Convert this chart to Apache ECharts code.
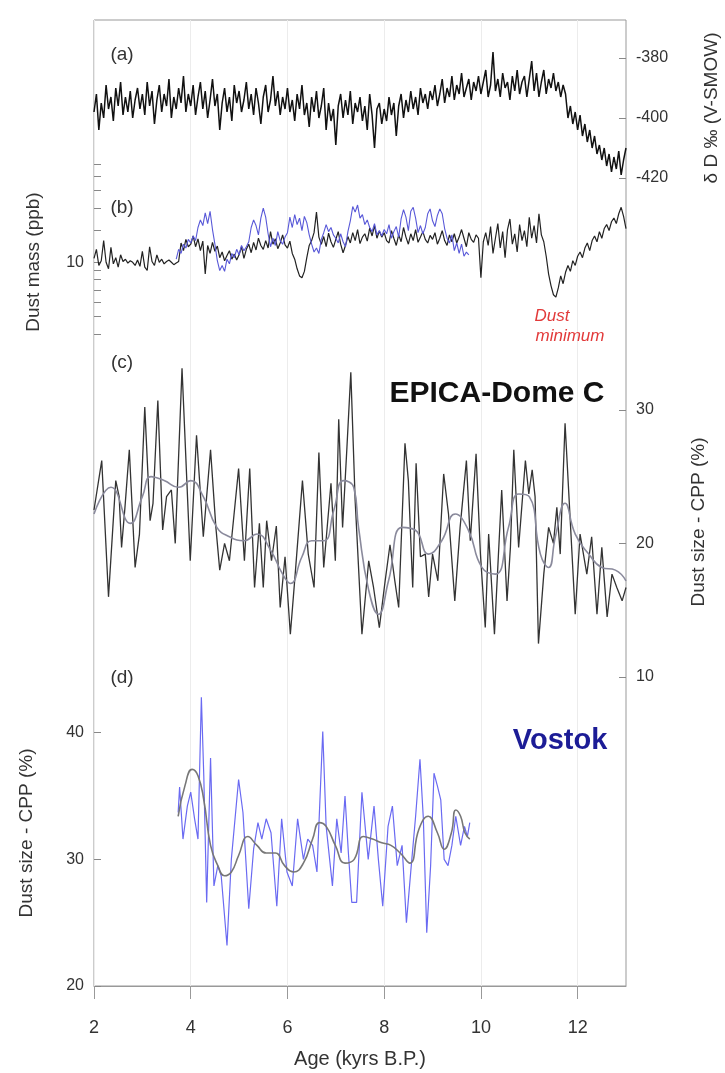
<!DOCTYPE html>
<html>
<head>
<meta charset="utf-8">
<script src="https://cdn.jsdelivr.net/npm/echarts@6/dist/echarts.min.js"></script>
<style>
  html, body { margin: 0; background: #fff; }
  #chart { width: 725px; height: 1073px; }
</style>
</head>
<body>
<div id="chart"></div>
<script>
// (a) deuterium, sampled every 0.05 kyr from 2.00 kyr
const DD_START = 2.0, DD_STEP = 0.05;
const deuterium = [
  -398,-392,-404,-395,-400,-389,-397,-393,-401,-390,-396,-388,-399,-393,-398,-391,-400,-394,-390,-397,
  -392,-399,-388,-396,-391,-402,-394,-389,-398,-392,-396,-387,-400,-393,-397,-390,-395,-386,-398,-392,
  -396,-389,-399,-393,-388,-397,-391,-400,-394,-387,-396,-392,-404,-395,-390,-398,-393,-401,-389,-395,
  -391,-398,-394,-388,-397,-392,-399,-390,-395,-402,-393,-389,-398,-394,-386,-396,-391,-399,-393,-397,
  -390,-398,-394,-401,-392,-397,-389,-399,-395,-403,-393,-398,-391,-400,-396,-390,-404,-395,-401,-397,
  -409,-396,-392,-400,-394,-399,-391,-402,-395,-398,-393,-401,-396,-404,-392,-399,-410,-397,-395,-402,
  -397,-401,-393,-399,-395,-406,-396,-392,-400,-394,-398,-391,-397,-393,-399,-390,-395,-392,-397,-391,
  -394,-389,-396,-392,-387,-395,-390,-393,-386,-394,-389,-392,-385,-393,-390,-387,-394,-388,-391,-386,
  -392,-388,-384,-393,-389,-378,-391,-387,-393,-385,-390,-388,-394,-386,-391,-384,-392,-388,-386,-393,
  -387,-381,-391,-385,-393,-388,-384,-392,-387,-390,-385,-391,-388,-393,-389,-392,-400,-396,-402,-398,
  -404,-399,-406,-402,-408,-404,-410,-406,-412,-409,-414,-410,-416,-412,-418,-413,-417,-411,-419,-414,
  -410
];

// (b) dust mass (ppb), EDC every 0.05 kyr from 2.00, Vostok from 3.70
const MASS_EDC_START = 2.0, MASS_STEP = 0.05;
const massEdc = [
  10.5,11.8,9.6,10.2,13.2,10.0,9.2,12.1,9.8,10.6,9.4,11.0,10.1,10.4,9.9,10.2,10.0,9.6,10.3,9.5,
  11.5,9.4,9.0,12.2,10.1,9.6,11.0,10.0,10.4,9.8,10.1,10.3,10.0,9.7,9.9,10.1,12.8,11.6,13.4,12.2,
  12.6,14.0,12.2,13.5,11.6,13.1,8.6,12.4,11.2,12.9,11.5,12.3,10.6,11.4,10.2,10.9,11.6,10.4,11.1,10.3,
  11.0,12.2,10.5,11.8,12.6,11.3,12.9,11.7,13.6,12.4,11.8,13.2,12.0,14.8,12.6,13.5,11.9,12.8,14.2,12.5,
  12.0,13.1,11.2,10.4,9.2,8.4,8.2,8.9,10.6,12.4,13.2,14.6,19.0,13.8,12.6,13.9,12.2,14.5,13.0,12.1,
  13.4,14.8,12.6,11.3,12.4,13.9,12.8,14.6,13.2,15.2,12.7,13.8,14.4,13.1,15.5,14.0,16.0,13.6,14.9,13.8,
  14.6,13.2,12.8,15.0,13.6,12.4,14.2,13.0,15.6,13.8,12.6,14.4,13.2,15.2,12.9,13.8,14.8,13.4,12.8,14.1,
  13.4,14.6,12.6,13.6,15.0,13.2,12.4,14.2,13.0,14.4,12.8,13.8,15.2,13.6,12.2,14.6,13.4,12.9,14.2,13.6,
  8.2,13.0,14.6,12.4,15.8,11.2,13.6,16.4,12.0,14.8,10.6,15.2,17.4,12.6,14.4,11.4,16.2,13.2,15.0,12.2,
  17.8,13.6,16.0,12.8,18.6,14.2,13.0,10.8,8.6,7.4,6.6,6.4,7.2,8.4,7.6,8.8,9.6,8.9,10.2,9.6,
  10.8,11.4,10.6,12.0,12.8,11.6,13.2,14.0,13.0,14.8,13.6,15.4,16.2,15.0,16.8,17.6,16.4,18.6,20.2,18.0,
  15.4
];
const MASS_VOSTOK_START = 3.7;
const massVostok = [
  10.4,11.8,11.2,12.6,12.0,13.4,
  12.8,14.0,13.2,15.6,17.2,16.0,18.8,16.4,19.2,15.2,12.6,10.2,9.0,9.6,8.9,10.4,9.8,11.2,10.6,11.8,
  11.0,12.4,11.6,12.2,13.0,15.6,17.2,16.0,14.2,17.6,20.0,17.8,14.4,12.2,13.6,12.4,14.8,13.2,12.6,13.8,
  14.6,17.8,15.6,18.4,16.2,17.6,15.0,18.0,16.6,14.2,12.6,11.4,12.0,11.2,13.4,14.6,16.2,14.8,15.6,14.2,
  13.6,12.8,14.4,13.0,12.2,14.8,17.0,20.4,19.0,20.8,17.6,18.4,16.2,17.2,15.6,14.8,16.4,14.2,15.0,14.0,
  15.2,14.4,16.2,13.6,14.8,15.8,13.8,17.4,19.6,17.8,15.0,19.2,20.2,17.6,14.6,16.0,14.4,15.6,18.6,19.8,
  17.0,15.8,18.2,19.8,18.6,15.4,13.6,12.8,14.2,11.6,12.8,11.2,12.6,10.8,11.4,11.0
];

// (c) EDC dust size CPP (%) [age kyr, value]
const cppEdc = [
  [2.00,22.5],[2.16,26.2],[2.30,16.0],[2.45,24.7],[2.52,23.5],[2.57,19.7],[2.64,22.7],[2.73,27.0],
  [2.85,18.2],[2.94,20.7],[3.05,30.2],[3.16,21.7],[3.22,23.0],[3.32,30.7],[3.42,21.0],[3.50,23.5],
  [3.60,24.0],[3.68,20.0],[3.82,33.1],[3.99,18.7],[4.12,28.1],[4.26,20.5],[4.41,27.0],[4.52,21.2],
  [4.60,18.0],[4.70,20.0],[4.80,18.7],[4.99,25.6],[5.11,18.7],[5.22,25.6],[5.32,16.7],[5.42,21.5],
  [5.50,16.7],[5.57,21.7],[5.67,18.7],[5.77,21.3],[5.85,15.2],[5.95,19.0],[6.06,13.2],[6.16,17.7],
  [6.31,24.7],[6.43,19.2],[6.55,16.7],[6.65,26.8],[6.75,18.2],[6.90,24.5],[6.99,18.7],[7.06,29.3],
  [7.14,21.2],[7.23,27.2],[7.31,32.8],[7.40,23.2],[7.54,13.2],[7.68,18.7],[7.78,16.7],[7.90,13.7],
  [8.02,17.2],[8.12,19.9],[8.22,17.2],[8.30,15.2],[8.43,27.5],[8.50,24.7],[8.59,16.7],[8.66,26.0],
  [8.75,19.0],[8.85,19.2],[8.92,16.0],[9.00,19.2],[9.11,17.2],[9.23,25.2],[9.33,22.2],[9.46,15.7],
  [9.57,21.2],[9.70,26.2],[9.78,20.2],[9.90,26.7],[9.99,19.2],[10.09,13.7],[10.16,20.7],[10.28,13.2],
  [10.36,19.0],[10.43,24.0],[10.54,15.7],[10.61,19.7],[10.68,27.0],[10.78,19.7],[10.92,26.2],[10.99,23.7],
  [11.06,25.5],[11.12,23.5],[11.19,12.5],[11.30,17.7],[11.40,21.2],[11.50,20.0],[11.57,22.7],[11.64,19.2],
  [11.74,29.0],[11.84,22.2],[11.95,14.7],[12.05,20.7],[12.19,17.7],[12.29,20.5],[12.40,14.7],[12.50,19.7],
  [12.61,14.5],[12.71,17.7],[12.81,16.7],[12.92,15.7],[13.00,16.7]
];
const cppEdcSmooth = [
  [2.00,22.2],[2.35,24.2],[2.75,21.5],[3.00,23.5],[3.18,25.0],[3.45,24.7],[3.75,24.2],[4.00,24.7],
  [4.26,23.5],[4.54,21.2],[4.80,20.5],[5.10,20.2],[5.37,20.7],[5.65,19.5],[5.90,17.7],[6.06,17.0],
  [6.30,19.0],[6.50,20.2],[6.75,20.2],[6.96,22.5],[7.16,24.7],[7.37,24.2],[7.47,21.2],[7.68,16.5],
  [7.88,14.7],[8.09,17.2],[8.37,21.2],[8.64,21.0],[8.92,19.2],[9.19,20.2],[9.47,22.2],[9.74,21.0],
  [10.02,18.2],[10.30,17.7],[10.57,21.2],[10.78,23.7],[11.00,23.5],[11.23,19.2],[11.40,18.2],[11.54,20.5],
  [11.74,23.0],[11.95,20.7],[12.23,19.2],[12.50,18.2],[12.78,18.0],[13.00,17.2]
];

// (d) Vostok dust size CPP (%) [age kyr, value]
const cppVostok = [
  [3.74,33.7],[3.77,35.7],[3.84,31.6],[3.93,34.2],[4.00,35.3],[4.08,33.2],[4.15,31.6],[4.22,42.8],
  [4.27,36.6],[4.33,26.6],[4.41,38.0],[4.48,27.9],[4.56,29.5],[4.63,28.7],[4.75,23.2],[4.84,30.0],
  [4.99,36.3],[5.08,33.7],[5.20,26.1],[5.30,30.8],[5.39,32.9],[5.47,31.6],[5.56,33.2],[5.66,32.1],
  [5.78,26.3],[5.88,33.2],[5.99,29.0],[6.10,27.9],[6.21,33.2],[6.33,30.0],[6.42,31.6],[6.52,31.1],
  [6.61,29.0],[6.73,40.1],[6.80,32.6],[6.93,27.9],[7.02,33.2],[7.11,30.5],[7.19,35.0],[7.26,30.5],
  [7.33,26.6],[7.43,26.6],[7.54,35.3],[7.67,30.0],[7.79,34.2],[7.88,30.0],[7.97,26.3],[8.08,32.6],
  [8.17,34.2],[8.27,29.5],[8.37,31.1],[8.46,25.0],[8.56,29.5],[8.65,33.4],[8.74,37.9],[8.81,33.2],
  [8.88,24.2],[8.96,29.5],[9.03,36.8],[9.10,35.8],[9.17,34.7],[9.24,30.0],[9.32,29.5],[9.40,31.1],
  [9.48,33.4],[9.58,31.1],[9.66,32.6],[9.72,31.8],[9.77,32.9]
];
const cppVostokSmooth = [
  [3.74,33.4],[3.88,35.8],[4.03,37.1],[4.15,36.6],[4.27,34.7],[4.41,31.1],[4.56,29.5],[4.70,28.7],
  [4.84,29.0],[4.99,30.3],[5.18,31.8],[5.37,31.1],[5.56,30.5],[5.75,30.5],[5.94,29.5],[6.13,29.0],
  [6.33,29.7],[6.52,31.6],[6.66,32.9],[6.80,32.6],[6.99,31.1],[7.19,29.7],[7.38,30.0],[7.57,31.8],
  [7.76,31.6],[7.95,31.3],[8.14,31.1],[8.33,30.5],[8.53,29.7],[8.72,32.4],[8.91,33.4],[9.10,32.1],
  [9.24,30.8],[9.39,32.1],[9.48,33.9],[9.58,33.4],[9.67,32.1],[9.77,31.6]
];

const AGE_TICKS = [2, 4, 6, 8, 10, 12];
const DD_TICKS = [-420, -400, -380];
const MASS_LABELS = [10];
const MASS_MINOR = [4, 5, 6, 7, 8, 9, 10, 15, 20, 25, 30, 35];
const CPP_EDC_TICKS = [10, 20, 30];
const CPP_VOSTOK_TICKS = [20, 30, 40];

function onGrid(start, step, vals) {
  return vals.map((v, i) => [+(start + i * step).toFixed(2), v]);
}

const FONT = '"Liberation Sans", Arial, sans-serif';
const chart = echarts.init(document.getElementById('chart'));

// all panels share the same left/right edges; heights follow the reference layout
const L = 94, R = 99;
const grids = [
  { top: 20, height: 966, show: true, borderColor: '#999', borderWidth: 1 },
  { top: 28, height: 150 },
  { top: 160, height: 180 },
  { top: 343, height: 334 },
  { top: 682, height: 304 },
].map(g => Object.assign({ left: L, right: R, outerBoundsMode: 'none', containLabel: false }, g));

const hiddenX = i => ({ gridIndex: i, type: 'value', min: 2, max: 13, show: false });
const tickLabel = { color: '#333', fontSize: 16, fontFamily: FONT };

function yAx(i, pos, opts, ticks, labels) {
  return Object.assign({
    gridIndex: i, position: pos,
    axisLine: { show: false },
    splitLine: { show: false },
    axisTick: { show: true, inside: true, length: 7, customValues: ticks, lineStyle: { color: '#888' } },
    axisLabel: Object.assign({ margin: 10, customValues: labels || ticks }, tickLabel),
  }, opts);
}

function line(i, data, color, width, smooth) {
  return {
    type: 'line', xAxisIndex: i, yAxisIndex: i, data,
    showSymbol: false, symbol: 'none', smooth: !!smooth, clip: false,
    lineStyle: { color, width }, animation: false,
  };
}

function label(text, x, y, opt) {
  return {
    type: 'text', x, y, rotation: (opt && opt.rot) || 0, z: 10,
    style: Object.assign({
      text, fill: '#333', fontSize: 19, fontFamily: FONT,
      align: 'center', verticalAlign: 'middle',
    }, (opt && opt.style) || {}),
  };
}

chart.setOption({
  backgroundColor: '#fff',
  animation: false,
  grid: grids,
  xAxis: [
    {
      gridIndex: 0, type: 'value', min: 2, max: 13, interval: 2,
      axisLine: { show: true, lineStyle: { color: '#999' } },
      axisTick: { show: true, length: 13, customValues: AGE_TICKS, lineStyle: { color: '#999' } },
      axisLabel: Object.assign({}, tickLabel, { margin: 33, fontSize: 18, customValues: AGE_TICKS }),
      splitLine: { show: true, lineStyle: { color: '#ececec' } },
      name: 'Age (kyrs B.P.)', nameLocation: 'middle', nameGap: 63,
      nameTextStyle: { color: '#333', fontSize: 20, fontFamily: FONT },
    },
    hiddenX(1), hiddenX(2), hiddenX(3), hiddenX(4),
  ],
  yAxis: [
    { gridIndex: 0, type: 'value', min: 0, max: 1, show: false },
    yAx(1, 'right', { type: 'value', min: -420, max: -370 }, DD_TICKS),
    yAx(2, 'left', { type: 'log', logBase: 10, min: 3.7, max: 37 }, MASS_MINOR, MASS_LABELS),
    yAx(3, 'right', { type: 'value', min: 10, max: 35 }, CPP_EDC_TICKS),
    yAx(4, 'left', { type: 'value', min: 20, max: 44 }, CPP_VOSTOK_TICKS),
  ],
  series: [
    line(1, onGrid(DD_START, DD_STEP, deuterium), '#111', 1.5),
    line(2, onGrid(MASS_EDC_START, MASS_STEP, massEdc), '#222', 1.2),
    line(2, onGrid(MASS_VOSTOK_START, MASS_STEP, massVostok), '#5858d8', 1.1),
    line(3, cppEdc, '#333', 1.3),
    line(3, cppEdcSmooth, '#8a8a9c', 1.6, true),
    line(4, cppVostok, '#6a6af2', 1.2),
    line(4, cppVostokSmooth, '#777', 1.6, true),
  ],
  graphic: [
    label('(a)', 122, 55),
    label('(b)', 122, 208),
    label('(c)', 122, 363),
    label('(d)', 122, 678),
    label('EPICA-Dome C', 497, 394, { style: { fontSize: 30, fontWeight: 'bold', fill: '#111' } }),
    label('Vostok', 560, 741, { style: { fontSize: 29, fontWeight: 'bold', fill: '#1c1c96' } }),
    label('Dust', 552, 316, { style: { fontSize: 17, fontStyle: 'italic', fill: '#e23a3a' } }),
    label('minimum', 570, 336, { style: { fontSize: 17, fontStyle: 'italic', fill: '#e23a3a' } }),
    label('δ D ‰ (V-SMOW)', 712, 108, { rot: Math.PI / 2 }),
    label('Dust mass (ppb)', 34, 262, { rot: Math.PI / 2 }),
    label('Dust size - CPP (%)', 699, 522, { rot: Math.PI / 2 }),
    label('Dust size - CPP (%)', 27, 833, { rot: Math.PI / 2 }),
  ],
});
</script>
</body>
</html>
